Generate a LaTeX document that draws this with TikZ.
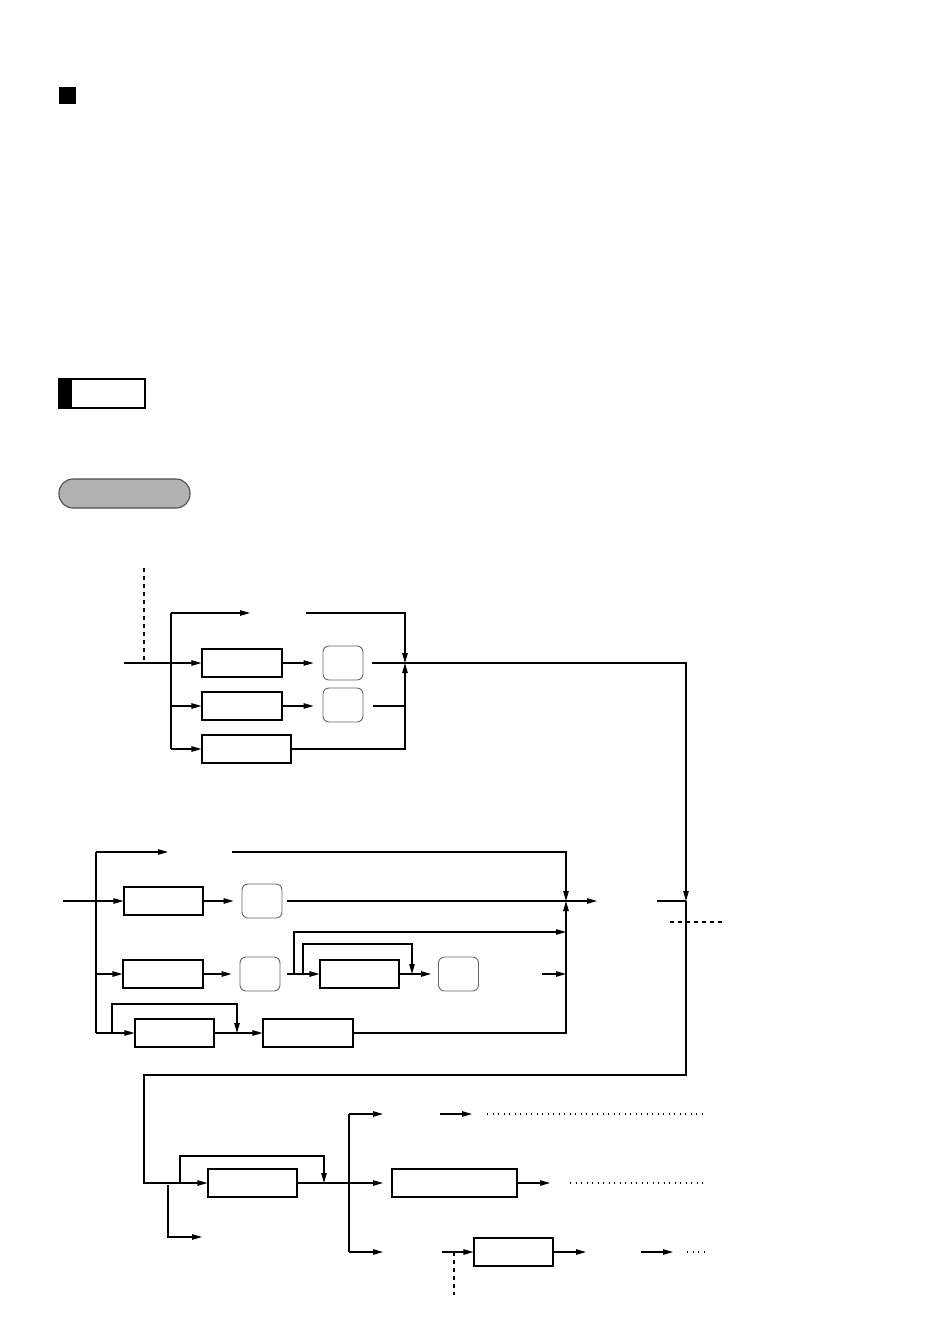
\documentclass[tikz,border=0pt]{standalone}
\usetikzlibrary{arrows.meta}

\tikzset{
  box/.style={draw, rectangle, minimum height=28, inner sep=0pt},
  keybox/.style={draw=black!60, line width=0.9pt, rounded corners=6pt, minimum width=40, minimum height=34, inner sep=0pt},
  dotline/.style={dash pattern=on 1.3pt off 4.2pt},
  dashline/.style={dash pattern=on 4pt off 4pt},
}

\begin{document}
\begin{tikzpicture}[x=1pt, y=-1pt, line width=1.1pt, >={Triangle[length=10pt,width=5.5pt]}]
    \useasboundingbox (0,0) rectangle (949,1342);

    % heading marks
    \node[fill, minimum size=17, inner sep=0pt] (mark) at (67.5,95.5) {};
    \node[draw, minimum width=86, minimum height=29, inner sep=0pt] (note) at (102,393.5) {};
    \node[fill, minimum width=13, minimum height=29, inner sep=0pt, anchor=west] (notebar) at (note.west) {};
    \node[draw=black!70, fill=black!30, rounded corners=14pt, minimum width=131, minimum height=29, inner sep=0pt] (pill) at (124.5,493.5) {};

    % first block
    \node[box, minimum width=80] (b1) at (242,663) {};
    \node[keybox] (k1) at (343,663) {};
    \node[box, minimum width=80] (b2) at (242,706) {};
    \node[keybox] (k2) at (343,705) {};
    \node[box, minimum width=89] (b3) at (246.5,749) {};

    \coordinate (in1) at (124,663);
    \coordinate (d1) at (144,568);
    \coordinate (s1t) at (171,613);
    \coordinate (s1b) at (171,749);
    \coordinate (t1a) at (250,613);
    \coordinate (t1b) at (306,613);
    \coordinate (j1) at (405,663);
    \coordinate (k1o) at (372,663);
    \coordinate (k2o) at (373,706);

    \draw[->] (in1) -- (b1.west);
    \draw[dashline] (d1) -- (d1 |- in1);
    \draw (s1t) -- (s1b);
    \draw[->] (s1t) -- (t1a);
    \draw[->] (t1b) -| (j1);
    \draw[->] (s1t |- b2) -- (b2.west);
    \draw[->] (s1b) -- (b3.west);
    \draw[->, shorten >=9pt] (b1) -- (k1);
    \draw[->, shorten >=9pt] (b2.east) -- (b2.east -| k2.west);
    \draw (k2o) -- (k2o -| j1);
    \draw[->] (b3) -| (j1);

    % second block
    \node[box, minimum width=79] (bA) at (163.5,901) {};
    \node[keybox] (kA) at (262,901) {};
    \node[box, minimum width=80] (bB) at (163,974) {};
    \node[keybox] (kB) at (260,974) {};
    \node[box, minimum width=79] (bC) at (359.5,974) {};
    \node[keybox] (kC) at (458.5,974) {};
    \node[box, minimum width=79] (bD) at (174.5,1033) {};
    \node[box, minimum width=90] (bE) at (308,1033) {};

    \coordinate (in2) at (63,901);
    \coordinate (s2t) at (96,852);
    \coordinate (s2b) at (96,1033);
    \coordinate (t2a) at (168,852);
    \coordinate (t2b) at (232,852);
    \coordinate (j2) at (566,901);
    \coordinate (kAo) at (287,901);
    \coordinate (o2) at (597,901);
    \coordinate (o2b) at (657,901);
    \coordinate (j3) at (686,901);
    \coordinate (dA) at (670,922);
    \coordinate (dB) at (723,922);
    \coordinate (kBo) at (287,974);
    \coordinate (lpO) at (294,974);
    \coordinate (r2) at (566,932);
    \coordinate (lpI) at (303,974);
    \coordinate (lpIc) at (412,944);
    \coordinate (kCo) at (542,974);
    \coordinate (lpD) at (112,1033);
    \coordinate (lpDc) at (237,1004);

    \draw[->] (in2) -- (bA.west);
    \draw (s2t) -- (s2b);
    \draw[->] (s2t) -- (t2a);
    \draw[->] (t2b) -| (j2);
    \draw[->, shorten >=8pt] (bA) -- (kA);
    \draw[->] (kAo) -- (o2);
    \draw[->] (k1o) -| (j3);
    \draw (o2b) -- (j3);
    \draw[dashline] (dA) -- (dB);
    \draw[->] (s2t |- bB) -- (bB.west);
    \draw[->, shorten >=8pt] (bB) -- (kB);
    \draw[->] (kBo) -- (bC.west);
    \draw[->] (lpO) |- (r2);
    \draw[->] (lpI) |- (lpIc) -- (lpIc |- bC);
    \draw[->, shorten >=7pt] (bC) -- (kC);
    \draw[->] (kCo) -- (kCo -| j2);
    \draw[->] (s2b) -- (bD.west);
    \draw[->] (lpD) |- (lpDc) -- (lpDc |- bD);
    \draw[->] (bD) -- (bE);
    \draw[->] (bE) -| (j2);

    % third block
    \node[box, minimum width=89] (bF) at (252.5,1183) {};
    \node[box, minimum width=125] (bG) at (454.5,1183) {};
    \node[box, minimum width=79] (bH) at (513.5,1252) {};

    \coordinate (l2) at (144,1075);
    \coordinate (lpF) at (180,1183);
    \coordinate (lpFc) at (324,1156);
    \coordinate (brF) at (168,1185);
    \coordinate (brFe) at (202,1237);
    \coordinate (s3) at (349,1183);
    \coordinate (s3t) at (349,1114);
    \coordinate (s3b) at (349,1252);
    \coordinate (a3t) at (383,1114);
    \coordinate (a3m) at (383,1183);
    \coordinate (a3b) at (383,1252);
    \coordinate (u1) at (440,1114);
    \coordinate (u2) at (472,1114);
    \coordinate (u3) at (487,1114);
    \coordinate (u4) at (705,1114);
    \coordinate (g1) at (550,1183);
    \coordinate (g2) at (570,1183);
    \coordinate (g3) at (705,1183);
    \coordinate (h0) at (442,1252);
    \coordinate (hd) at (454,1295);
    \coordinate (h1) at (586,1252);
    \coordinate (h2) at (641,1252);
    \coordinate (h3) at (673,1252);
    \coordinate (h4) at (687,1252);
    \coordinate (h5) at (705,1252);

    \draw[->] (j3) |- (l2) |- (bF.west);
    \draw[->] (lpF) |- (lpFc) -- (lpFc |- bF);
    \draw[->] (brF) |- (brFe);
    \draw (bF) -- (s3);
    \draw (s3t) -- (s3b);
    \draw[->] (s3t) -- (a3t);
    \draw[->] (s3) -- (a3m);
    \draw[->] (s3b) -- (a3b);
    \draw[->] (u1) -- (u2);
    \draw[dotline] (u3) -- (u4);
    \draw[->] (bG) -- (g1);
    \draw[dotline] (g2) -- (g3);
    \draw[->] (h0) -- (bH.west);
    \draw[dashline] (h0 -| hd) -- (hd);
    \draw[->] (bH) -- (h1);
    \draw[->] (h2) -- (h3);
    \draw[dotline] (h4) -- (h5);
\end{tikzpicture}
\end{document}
